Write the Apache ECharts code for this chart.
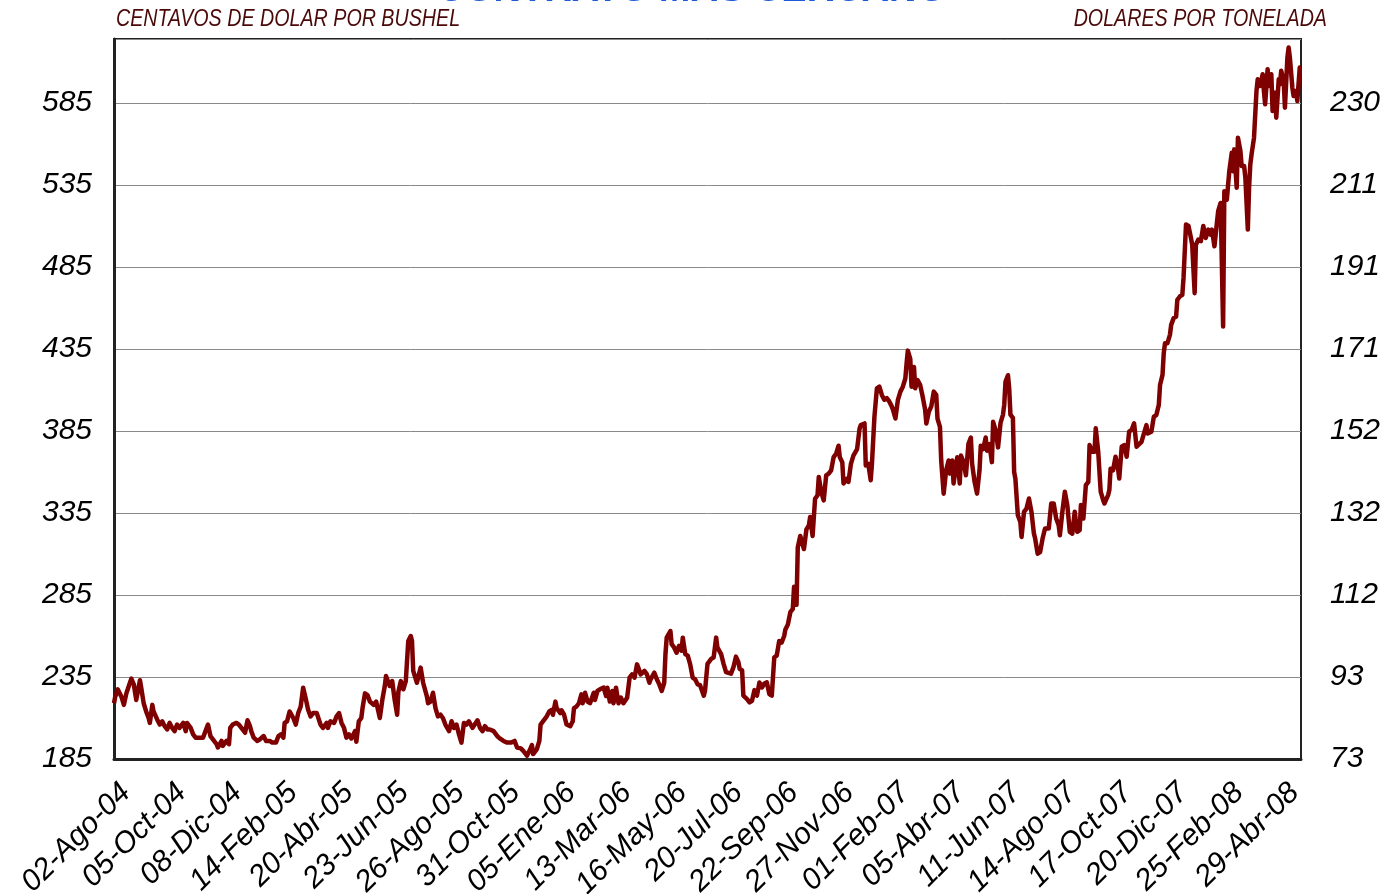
<!DOCTYPE html>
<html>
<head>
<meta charset="utf-8">
<script src="https://cdn.jsdelivr.net/npm/echarts@6/dist/echarts.min.js"></script>
<style>
html,body{margin:0;padding:0;background:#fff;}
#c{width:1385px;height:894px;}
</style>
</head>
<body>
<div id="c"></div>
<script>
// Trading-day index counted from 02-Ago-04 (one category label every 45 trading days)
const xLabels = ['02-Ago-04','05-Oct-04','08-Dic-04','14-Feb-05','20-Abr-05','23-Jun-05','26-Ago-05','31-Oct-05','05-Ene-06','13-Mar-06','16-May-06','20-Jul-06','22-Sep-06','27-Nov-06','01-Feb-07','05-Abr-07','11-Jun-07','14-Ago-07','17-Oct-07','20-Dic-07','25-Feb-08','29-Abr-08'];
const leftLabels = ['185','235','285','335','385','435','485','535','585'];
const rightLabels = ['73','93','112','132','152','171','191','211','230'];

const tradingDay = [0,1,3,6,8,10,12,14,16,18,21,22,24,26,28,29,31,32,35,37,39,41,43,45,47,49,51,53,56,58,59,62,64,66,69,72,74,76,78,80,83,84,87,88,91,93,94,96,99,101,104,106,108,110,111,113,116,118,121,123,126,128,131,133,135,137,138,140,142,145,147,149,151,153,155,157,159,161,164,167,169,172,173,175,178,180,182,184,186,188,190,192,195,196,198,200,201,203,205,207,210,212,215,217,219,220,223,225,227,229,230,232,234,236,238,240,241,242,245,246,248,250,253,254,256,258,260,262,264,266,268,271,273,275,277,279,281,283,285,287,290,291,294,296,298,300,302,304,307,310,312,315,318,321,324,326,329,331,334,336,338,339,342,344,345,348,350,352,354,355,357,358,361,362,364,366,369,371,372,374,376,378,379,381,383,385,388,389,391,393,396,398,399,401,403,404,406,408,410,412,415,417,419,421,423,424,426,429,431,433,434,437,439,441,443,445,446,447,450,451,453,455,457,459,460,462,464,466,468,470,472,474,477,478,480,483,485,487,488,491,493,495,496,499,501,503,505,506,508,509,512,514,516,518,520,522,524,526,528,530,532,534,536,538,540,542,543,545,547,549,550,552,553,555,558,560,562,563,565,567,569,570,572,574,576,578,580,582,584,586,587,589,590,593,594,596,598,601,603,604,607,608,610,612,613,615,617,619,621,623,625,627,629,630,632,634,636,638,640,641,642,644,645,647,648,650,652,654,656,657,659,661,663,665,666,668,669,671,673,675,676,678,679,682,684,685,687,689,691,693,694,696,698,700,701,703,705,706,708,710,711,713,715,717,719,720,721,723,724,725,727,728,729,731,733,734,736,738,740,742,744,745,747,749,751,753,754,756,758,760,762,764,765,767,769,771,773,775,777,779,781,782,784,786,788,789,791,793,794,796,798,800,801,804,805,806,808,810,812,813,815,817,819,821,823,825,827,828,831,833,835,836,839,841,843,845,846,848,849,850,852,854,855,857,859,860,862,864,865,866,867,869,871,872,874,875,877,879,881,883,885,887,888,890,892,893,895,896,897,898,899,900,902,904,905,906,908,909,911,912,914,915,917,918,919,920,922,924,925,927,929,930,931,933,934,936,937,939,940,942,943,944,946,947,949,950,951,953,954,956,957,959,960];

const priceCents = [219,223,227.5,223,218,225,229.5,234,230.5,221,233,228.5,219,214,210,207,218,214,209,206,208,205,203,207,204,202,206,204,207,202,207,204,200,198,198,198,202,206,199,197,194,192,196,193,196,194,204,206,207,206,203,201,208.6,205,202,198,196,197,199,196,196,195,195,199,200,198,207,208,214,210,206,213,217,228.5,222,215,211,213,213,206,204,207,204,208,207,211,213,207,204,198,200,197.5,202,195.5,208,210,216,225,224,220,218,220,210,221,229.5,235.6,229.5,232.5,221,212,226,232.5,227.5,232.5,257,260,257,238.7,231.5,234.6,240.7,231.5,223.4,219,220,225.4,216,211,212,210,206,202,208,204,206,200,195,207,206,208,204,203,208.6,204,202,205,203,203,202,199,197.5,196,195,195,196,192,191.5,190,187,190,193.5,188,191,196,206,209,211,214,215,212,220,216,213,214.7,212,206,205,208,216,217,219,224.4,219,225.4,220,219,225.4,221,226.5,227.5,228.5,223.4,228.5,220,226.5,219,228.5,219,222.4,219,222.4,234.6,236.6,234.6,242.7,240.7,236.6,238.7,236.6,231.5,233.6,237.6,233.6,230.5,226.5,231.5,249,259,263,255,253,249.8,254,251,259,249,248,242.7,234.6,233.6,230.5,230,223.6,226.6,243,246,247,259,253,249,243,238,237,237,241,247.4,244,240,239,223.6,221.5,219.5,220.5,227,223.6,231.7,228.6,231,231.7,224.6,223.6,247,248,257,256,260,264,267,274.5,276.5,290,279,314,321,313,325,327.5,332.5,321,343.7,345.8,357,347.8,342.7,358,359,361,369,371,376,369,366,353,356,354,365,370,374,386.5,388.6,389.6,364,365,355,365,393.6,411,412,407,404,405,403,400,398,392.6,404,409,412,417,426,434,429,412,424,411,416,413,406,398,389.6,396.7,400,409,407,392.6,387.5,367,346.8,361,367,359,367,353,369,353,370,366,358,377,381,365,354,346.8,361,376,374,381,373,377,366,390.6,385.5,375,390,395,401,415,419,411,395,393,360,356,333.6,329.6,320.4,335.7,337.7,343.8,335.7,322.4,319.4,310.2,311.2,319.4,325.5,324.5,325.5,340.8,340.8,331.6,327.5,321.4,335.7,348,339.8,323.5,322.4,335.7,323.5,324.5,339.8,331.6,352,354,376.4,372.3,372.3,386.6,372.3,348,342.8,340.8,345.9,349,362,361,369.3,362,356,375.4,376.4,369.3,384.6,385.6,389.7,375.4,374.4,378.4,383.5,388.6,383.5,384.6,393.7,394.7,400.9,413,419.2,432.4,438.5,438.5,443.6,449.7,453.8,454.8,465,467,468,478.3,479.3,510.9,510,502.7,498.6,469,498.6,501.7,500.7,510,502.7,507.8,504.7,507.8,497.6,511.9,519,524,523,448.7,531.2,532.2,526,543.4,554.6,543.4,556.7,533.3,563.8,555.7,546.5,546.5,539.4,507.8,533.3,547.5,553.6,563.8,592.3,599.5,595.4,602.5,592.3,584.2,605.6,595.4,602.5,580.1,591.3,576,599.5,596.4,604.6,598.4,582.1,612.7,618.8,612.7,594.4,589.3,592.3,586.2,606.6,606.6];

const seriesData = tradingDay.map((d, i) => [d, priceCents[i]]);

function labelAt(arr, v, base, step) {
  const i = Math.round((v - base) / step);
  if (Math.abs(v - base - i * step) > 1e-6 || i < 0 || i >= arr.length) return '';
  return arr[i];
}

const chart = echarts.init(document.getElementById('c'), null, {renderer: 'canvas', width: 1385, height: 894});
const labelFont = {fontFamily: '"Liberation Sans", Arial, sans-serif', fontStyle: 'italic', color: '#000'};
const unitFont = 'italic 24px "Liberation Sans", Arial, sans-serif';

chart.setOption({
  animation: false,
  backgroundColor: '#ffffff',
  grid: {left: 114, right: 84, top: 39, bottom: 135, show: true, borderColor: '#222', borderWidth: 2, backgroundColor: '#fff', containLabel: false, outerBoundsMode: 'none'},
  graphic: [
    {type: 'text', x: 116, y: 19, scaleX: 0.82, style: {text: 'CENTAVOS DE DOLAR POR BUSHEL', font: unitFont, fill: '#4a0808', textAlign: 'left', textVerticalAlign: 'middle'}},
    {type: 'text', x: 1327, y: 19, scaleX: 0.82, style: {text: 'DOLARES POR TONELADA', font: unitFont, fill: '#4a0808', textAlign: 'right', textVerticalAlign: 'middle'}},
    {type: 'text', x: 693, y: -9, style: {text: 'CONTRATO MAS CERCANO', font: 'bold italic 38px "Liberation Sans", sans-serif', fill: '#1f5ad8', textAlign: 'center', textVerticalAlign: 'middle'}}
  ],
  xAxis: {
    type: 'value', min: 0, max: 960, interval: 45,
    axisLine: {show: true, lineStyle: {color: '#222', width: 3}},
    axisTick: {show: false},
    splitLine: {show: false},
    axisLabel: Object.assign({
      fontSize: 30, rotate: 45, margin: 17, align: 'right', verticalAlign: 'top', padding: [2, 0, 0, 0],
      showMaxLabel: false,
      formatter: v => labelAt(xLabels, v, 0, 45)
    }, labelFont)
  },
  yAxis: [
    {
      type: 'value', min: 185, max: 624, interval: 50, position: 'left',
      axisLine: {show: true, lineStyle: {color: '#222', width: 3}},
      axisTick: {show: false},
      splitLine: {show: true, lineStyle: {color: '#8a8a8a', width: 1}},
      axisLabel: Object.assign({fontSize: 30, margin: 22, formatter: v => labelAt(leftLabels, v, 185, 50)}, labelFont)
    },
    {
      type: 'value', min: 185, max: 624, interval: 50, position: 'right',
      axisLine: {show: false},
      axisTick: {show: false},
      splitLine: {show: false},
      axisLabel: Object.assign({fontSize: 30, margin: 29, formatter: v => labelAt(rightLabels, v, 185, 50)}, labelFont)
    }
  ],
  series: [{
    type: 'line', yAxisIndex: 0, data: seriesData, showSymbol: false, symbol: 'none',
    lineStyle: {color: '#7f0000', width: 4.5, join: 'round'}
  }]
});
</script>
</body>
</html>
